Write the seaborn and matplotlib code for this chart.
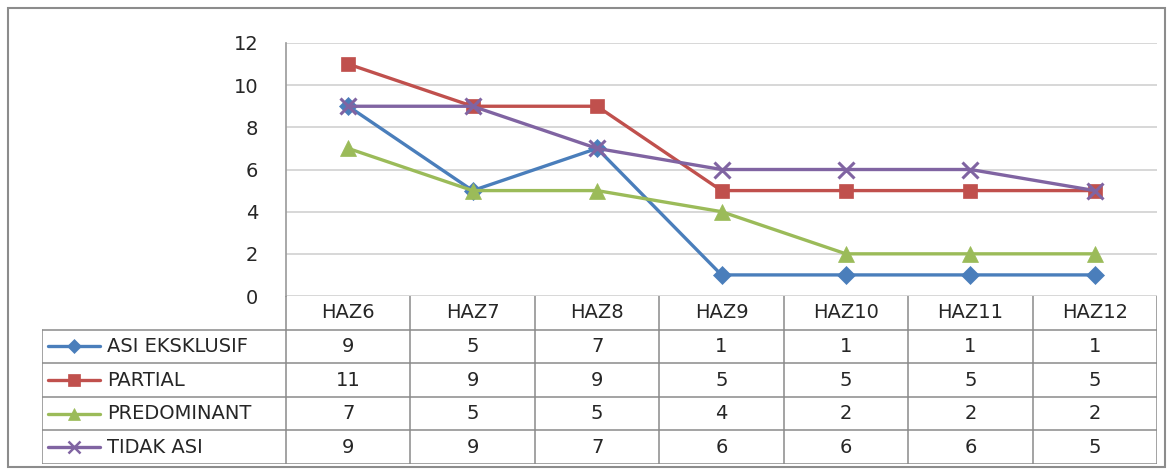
import matplotlib
matplotlib.use("Agg")
import matplotlib.pyplot as plt
from matplotlib.patches import Rectangle
import numpy as np
import pandas as pd
import seaborn as sns

# Data dari grafik
kategori = ["HAZ6", "HAZ7", "HAZ8", "HAZ9", "HAZ10", "HAZ11", "HAZ12"]
asi_eksklusif = [9, 5, 7, 1, 1, 1, 1]
partial = [11, 9, 9, 5, 5, 5, 5]
predominant = [7, 5, 5, 4, 2, 2, 2]
tidak_asi = [9, 9, 7, 6, 6, 6, 5]

seri_nama = ["ASI EKSKLUSIF", "PARTIAL", "PREDOMINANT", "TIDAK ASI"]
seri_nilai = [asi_eksklusif, partial, predominant, tidak_asi]

# Gaya tiap seri (warna Excel)
warna = ["#4A7EBB", "#C0504D", "#9BBB59", "#8064A2"]
penanda = ["D", "s", "^", "x"]
ukuran = [9, 10, 11, 11]
ukuran_legenda = [7, 8.5, 8.5, 8.5]

sns.set_theme(style="white")
plt.rcParams["font.family"] = ["DejaVu Sans"]
TEKS = "#262626"
FS = 14

df = pd.DataFrame({
    "kategori": kategori * len(seri_nama),
    "seri": np.repeat(seri_nama, len(kategori)),
    "nilai": np.concatenate(seri_nilai),
})

W, H = 1167, 470
fig = plt.figure(figsize=(W / 100, H / 100), dpi=100)

def kotak(x0, y0, x1, y1):
    """Konversi koordinat piksel (atas-kiri) ke posisi axes figure."""
    return [x0 / W, 1 - y1 / H, (x1 - x0) / W, (y1 - y0) / H]

# Bingkai luar grafik
fig.patches.append(Rectangle((8 / W, 3 / H), 1157 / W, 459 / H,
                             transform=fig.transFigure, fill=False,
                             edgecolor="#8c8c8c", linewidth=1.5))

# Area plot
ax = fig.add_axes(kotak(286, 43, 1157, 296))
for nama, c, m, s in zip(seri_nama, warna, penanda, ukuran):
    sub = df[df["seri"] == nama]
    sns.lineplot(data=sub, x="kategori", y="nilai", ax=ax, color=c,
                 marker=m, markersize=s, markeredgecolor=c,
                 markeredgewidth=2.2 if m == "x" else 0.5,
                 linewidth=2.4, legend=False)

ax.set_xlim(-0.5, len(kategori) - 0.5)
ax.set_ylim(0, 12)
ax.set_yticks(range(0, 13, 2))
ax.set_xticks([])
ax.set_xlabel("")
ax.set_ylabel("")
ax.grid(axis="y", color="#D4D4D4", linewidth=1.3)
ax.set_axisbelow(True)
for sisi in ["top", "right", "bottom"]:
    ax.spines[sisi].set_visible(False)
ax.spines["left"].set_color("#9a9a9a")
ax.spines["left"].set_linewidth(1.2)
ax.tick_params(axis="y", length=0, pad=20, labelsize=FS, labelcolor=TEKS)

# Tabel data di bawah plot
lebar_kat = (1157 - 286) / len(kategori)
kiri = -0.5 - (286 - 42) / lebar_kat
tab = fig.add_axes(kotak(42, 296, 1157, 464))
tab.set_xlim(kiri, len(kategori) - 0.5)
tab.set_ylim(len(seri_nama) + 1, 0)
tab.axis("off")

garis = dict(color="#8a8a8a", linewidth=1.1)
for i in range(len(kategori) + 1):
    tab.plot([i - 0.5, i - 0.5], [0, len(seri_nama) + 1], **garis)
tab.plot([kiri, kiri], [1, len(seri_nama) + 1], **garis)
for r in range(1, len(seri_nama) + 2):
    tab.plot([kiri, len(kategori) - 0.5], [r, r], **garis)

for i, k in enumerate(kategori):
    tab.text(i, 0.5, k, ha="center", va="center", fontsize=FS, color=TEKS)

x_garis = [kiri + 0.05, kiri + 0.47]
for r, (nama, nilai, c, m, s) in enumerate(
        zip(seri_nama, seri_nilai, warna, penanda, ukuran_legenda), start=1):
    y = r + 0.5
    tab.plot(x_garis, [y, y], color=c, linewidth=2.4)
    tab.plot([np.mean(x_garis)], [y], color=c, marker=m, markersize=s,
             markeredgewidth=1.8 if m == "x" else 0.5, markeredgecolor=c)
    tab.text(kiri + 0.52, y, nama, ha="left", va="center", fontsize=FS,
             color=TEKS)
    for i, v in enumerate(nilai):
        tab.text(i, y, str(v), ha="center", va="center", fontsize=FS,
                 color=TEKS)

fig.savefig("out.png", dpi=100)
